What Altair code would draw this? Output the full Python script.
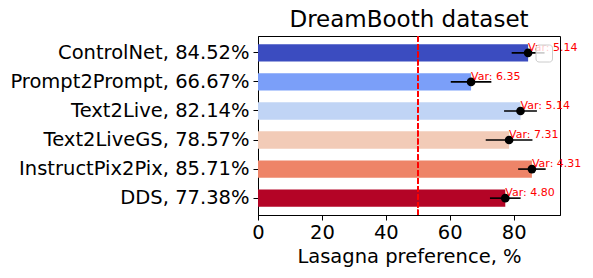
import altair as alt
import pandas as pd

title_text = "DreamBooth dataset"
methods = ["ControlNet", "Prompt2Prompt", "Text2Live", "Text2LiveGS", "InstructPix2Pix", "DDS"]
preference = [84.52, 66.67, 82.14, 78.57, 85.71, 77.38]
variance = [5.14, 6.35, 5.14, 7.31, 4.31, 4.80]
colors = ["#3b4cc0", "#7b9ff9", "#c0d4f5", "#f2cbb7", "#ee8468", "#b40426"]

df = pd.DataFrame({
    "method": methods,
    "pref": preference,
    "var": variance,
})
df["label"] = [f"{m}, {p:.2f}%" for m, p in zip(methods, preference)]
df["lo"] = df["pref"] - df["var"]
df["hi"] = df["pref"] + df["var"]
df["vartext"] = [f"Var: {v:.2f}" for v in variance]
labels = list(df["label"])

FONT = "DejaVu Sans"
FS = 19.5

x_scale = alt.Scale(domain=[0, 94.5], nice=False, zero=False)
y_scale = alt.Scale(domain=labels, paddingInner=0.4, paddingOuter=0.28)

y_enc = alt.Y("label:N", scale=y_scale, sort=labels,
              axis=alt.Axis(title=None, labelFontSize=FS, labelFont=FONT, labelColor="black",
                            tickSize=5, tickColor="black", domainColor="black",
                            labelPadding=4, labelLimit=400))
x_enc = alt.X("pref:Q", scale=x_scale,
              axis=alt.Axis(title="Lasagna preference, %", titleFontSize=FS, titleFont=FONT,
                            titleFontWeight="normal", titleColor="black",
                            labelFontSize=FS, labelFont=FONT, labelColor="black",
                            labelFlush=False, labelOverlap=False,
                            values=[0, 20, 40, 60, 80], tickSize=5, tickColor="black",
                            domainColor="black", labelPadding=3, titlePadding=6, grid=False))

bars = alt.Chart(df).mark_bar(size=17.4).encode(
    x=x_enc,
    y=y_enc,
    color=alt.Color("method:N", scale=alt.Scale(domain=methods, range=colors), legend=None),
)

vline = alt.Chart(df).mark_rule(color="red", strokeWidth=1.5, strokeDash=[5.5, 2.4]).encode(
    x=alt.datum(50)
)

err = alt.Chart(df).mark_rule(color="black", strokeWidth=1.6).encode(
    x="lo:Q", x2="hi:Q", y=alt.Y("label:N", scale=y_scale, sort=labels)
)

pts = alt.Chart(df).mark_point(filled=True, color="black", size=75, opacity=1).encode(
    x="pref:Q", y=alt.Y("label:N", scale=y_scale, sort=labels)
)

txt = alt.Chart(df).mark_text(color="red", fontSize=11, font=FONT, align="left",
                              baseline="alphabetic", dy=-2).encode(
    x="pref:Q", y=alt.Y("label:N", scale=y_scale, sort=labels), text="vartext:N"
)

legend_box = alt.Chart(df.head(1)).mark_rect(
    fill="white", fillOpacity=0.8, stroke="#cccccc", strokeWidth=1, cornerRadius=3
).encode(
    x=alt.value(278), x2=alt.value(294.5), y=alt.value(9), y2=alt.value(26)
)

title_mark = alt.Chart(df.head(1)).mark_text(
    fontSize=23, font=FONT, color="black", align="center", baseline="alphabetic"
).encode(
    x=alt.value(151), y=alt.value(-8.7), text=alt.value(title_text)
)

chart = alt.layer(bars, vline, err, pts, txt, legend_box, title_mark).properties(
    width=302, height=179,
    autosize=alt.AutoSizeParams(type="none"),
    padding={"left": 250, "top": 28, "right": 25, "bottom": 55},
    background="white",
).configure_view(stroke="black", strokeWidth=1)

chart.save("out.html", embed_options={"renderer": "svg", "actions": False})
